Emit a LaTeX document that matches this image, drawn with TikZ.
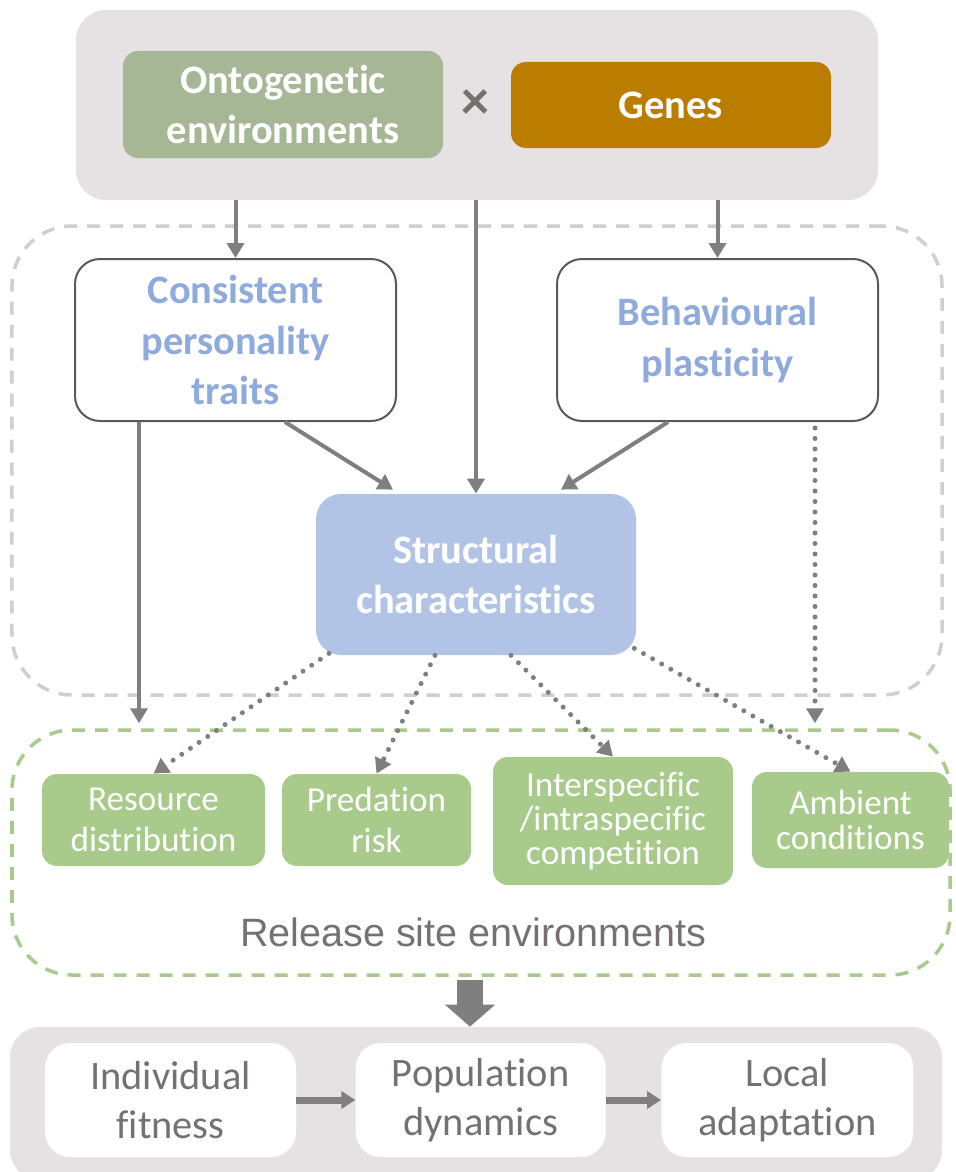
\documentclass[tikz,border=0pt]{standalone}
\usepackage{fontspec}
\setmainfont{Carlito}[RawFeature=-liga]
\newfontfamily\arialfont{Liberation Sans}
\usetikzlibrary{arrows.meta, positioning}

\definecolor{myBgGrey}{RGB}{230, 225, 227}
\definecolor{mySage}{RGB}{166, 183, 149}
\definecolor{myGold}{RGB}{187, 125, 0}
\definecolor{mySkyBlue}{RGB}{143, 170, 220}
\definecolor{myPaleBlue}{RGB}{178, 196, 230}
\definecolor{myLeaf}{RGB}{168, 203, 140}
\definecolor{myLineGrey}{RGB}{127, 127, 127}
\definecolor{myDashGrey}{RGB}{208, 206, 206}
\definecolor{myTextGrey}{RGB}{118, 113, 113}
\definecolor{myFrameGrey}{RGB}{89, 89, 89}

\tikzstyle{panel}= [fill=myBgGrey, rounded corners=0.6cm, inner sep=0]
\tikzstyle{zone}= [line width=0.07cm, dash pattern=on 0.26cm off 0.2cm, rounded corners=1.2cm, inner sep=0]
\tikzstyle{Head}= [text=white, align=center, rounded corners=0.3cm, minimum width=6.4cm,
    font=\fontsize{23}{28}\selectfont\bfseries]
\tikzstyle{Trait}= [draw=myFrameGrey, line width=0.04cm, fill=white, text=mySkyBlue, align=center,
    rounded corners=0.5cm, minimum width=6.42cm, minimum height=3.24cm,
    font=\fontsize{23}{28.5}\selectfont\bfseries]
\tikzstyle{Site}= [fill=myLeaf, text=white, align=center, rounded corners=0.3cm,
    font=\fontsize{20}{23}\selectfont]
\tikzstyle{Outcome}= [fill=white, text=myTextGrey, align=center, rounded corners=0.5cm,
    minimum height=2.28cm, font=\fontsize{23}{28}\selectfont]
\tikzstyle{arr}= [draw=myLineGrey, line width=0.08cm, -{Triangle[width=0.34cm, length=0.3cm]}]
\tikzstyle{dots}= [dash pattern=on 0pt off 0.21cm, line cap=round, line width=0.1cm]

\begin{document}
\begin{tikzpicture}
    \useasboundingbox (0,0) rectangle (19.12,-23.44);

    % origin panel
    \node [panel, minimum width=16.04cm, minimum height=3.8cm] (origin) at (9.54,-2.1) {};
    \node [Head, fill=mySage, minimum height=2.14cm] (onto) at (5.66,-2.09)
    {Ontogenetic\\environments};
    \node [Head, fill=myGold, minimum height=1.72cm] (genes) at (13.42,-2.1) {Genes};
    \node [text=myTextGrey, inner sep=0, font=\fontsize{32}{32}\selectfont\bfseries] (times) at (9.5,-2.1) {×};

    % dashed zones
    \node [zone, draw=myDashGrey, minimum width=18.6cm, minimum height=9.38cm] (traitzone) at (9.54,-9.21) {};
    \node [zone, draw=myLeaf, minimum width=18.76cm, minimum height=4.9cm] (site) at (9.62,-17.05) {};

    \node [Trait] (traits) at (4.71,-6.8) {Consistent\\personality\\traits};
    \node [Trait] (plasticity) at (14.35,-6.8) {Behavioural\\plasticity};
    \node [Head, fill=myPaleBlue, rounded corners=0.5cm, minimum height=3.22cm] (structure) at (9.52,-11.49)
    {Structural\\characteristics};

    % release site boxes
    \node [Site, minimum width=4.46cm, minimum height=1.84cm] (resource) at (3.07,-16.4) {Resource\\distribution};
    \node [Site, minimum width=3.78cm, minimum height=1.84cm] (predation) at (7.53,-16.4) {Predation\\risk};
    \node [Site, minimum width=4.8cm, minimum height=2.56cm, font=\fontsize{20}{19.5}\selectfont] (competition) at (12.26,-16.42)
    {Interspecific\\/intraspecific\\competition};
    \node [Site, minimum width=3.94cm, minimum height=1.92cm, font=\fontsize{20}{19.5}\selectfont] (ambient) at (17.01,-16.4)
    {Ambient\\conditions};
    \node [text=myTextGrey, font=\arialfont\fontsize{22.5}{26}\selectfont] (sitelabel) at (9.46,-18.64)
    {Release site environments};

    % outcome panel
    \node [panel, minimum width=18.64cm, minimum height=3.06cm] (outcome) at (9.52,-22.07) {};
    \node [Outcome, minimum width=5.02cm] (fitness) at (3.41,-22.0) {Individual\\fitness};
    \node [Outcome, minimum width=5.0cm, right=1.18cm of fitness] (dynamics) {Population\\dynamics};
    \node [Outcome, minimum width=5.04cm, right=1.1cm of dynamics] (adaptation) {Local\\adaptation};

    % inherited paths
    \draw [arr] (origin.south -| traits.north) -- (traits.north);
    \draw [arr] (origin.south -| structure.north) -- (structure.north);
    \draw [arr] (origin.south -| plasticity.north) -- (plasticity.north);

    \draw [arr] ([xshift=0.99cm]traits.south) -- ([xshift=-1.66cm, yshift=0.08cm]structure.north);
    \draw [arr] ([xshift=-0.99cm]plasticity.south) -- ([xshift=1.7cm, yshift=0.08cm]structure.north);

    % effects on the release site
    \draw [arr, shorten >=0.1cm] ([xshift=-1.93cm]traits.south) -- ([xshift=-1.93cm]traits.south |- site.north);
    \draw [arr, dots, shorten <=0.12cm, shorten >=0.1cm] ([xshift=1.95cm]plasticity.south)
    -- ([xshift=1.95cm]plasticity.south |- site.north);

    \draw [arr, dots] ([xshift=-2.94cm, yshift=0.04cm]structure.south) -- (resource.north);
    \draw [arr, dots] ([xshift=-0.82cm]structure.south) -- (predation.north);
    \draw [arr, dots] ([xshift=0.7cm]structure.south) -- (competition.north);
    \draw [arr, dots] ([xshift=-0.04cm, yshift=0.14cm]structure.south east) -- (ambient.north);

    % block arrow down to the outcomes
    \draw [draw=myLineGrey, line width=0.52cm, -{Triangle[width=0.98cm, length=0.44cm]}]
    ([xshift=-0.22cm, yshift=-0.06cm]site.south) -- ([xshift=-0.22cm]site.south |- outcome.north);

    \draw [arr, line width=0.14cm, -{Triangle[width=0.34cm, length=0.28cm]}] (fitness) -- (dynamics);
    \draw [arr, line width=0.14cm, -{Triangle[width=0.34cm, length=0.28cm]}] (dynamics) -- (adaptation);

\end{tikzpicture}
\end{document}
